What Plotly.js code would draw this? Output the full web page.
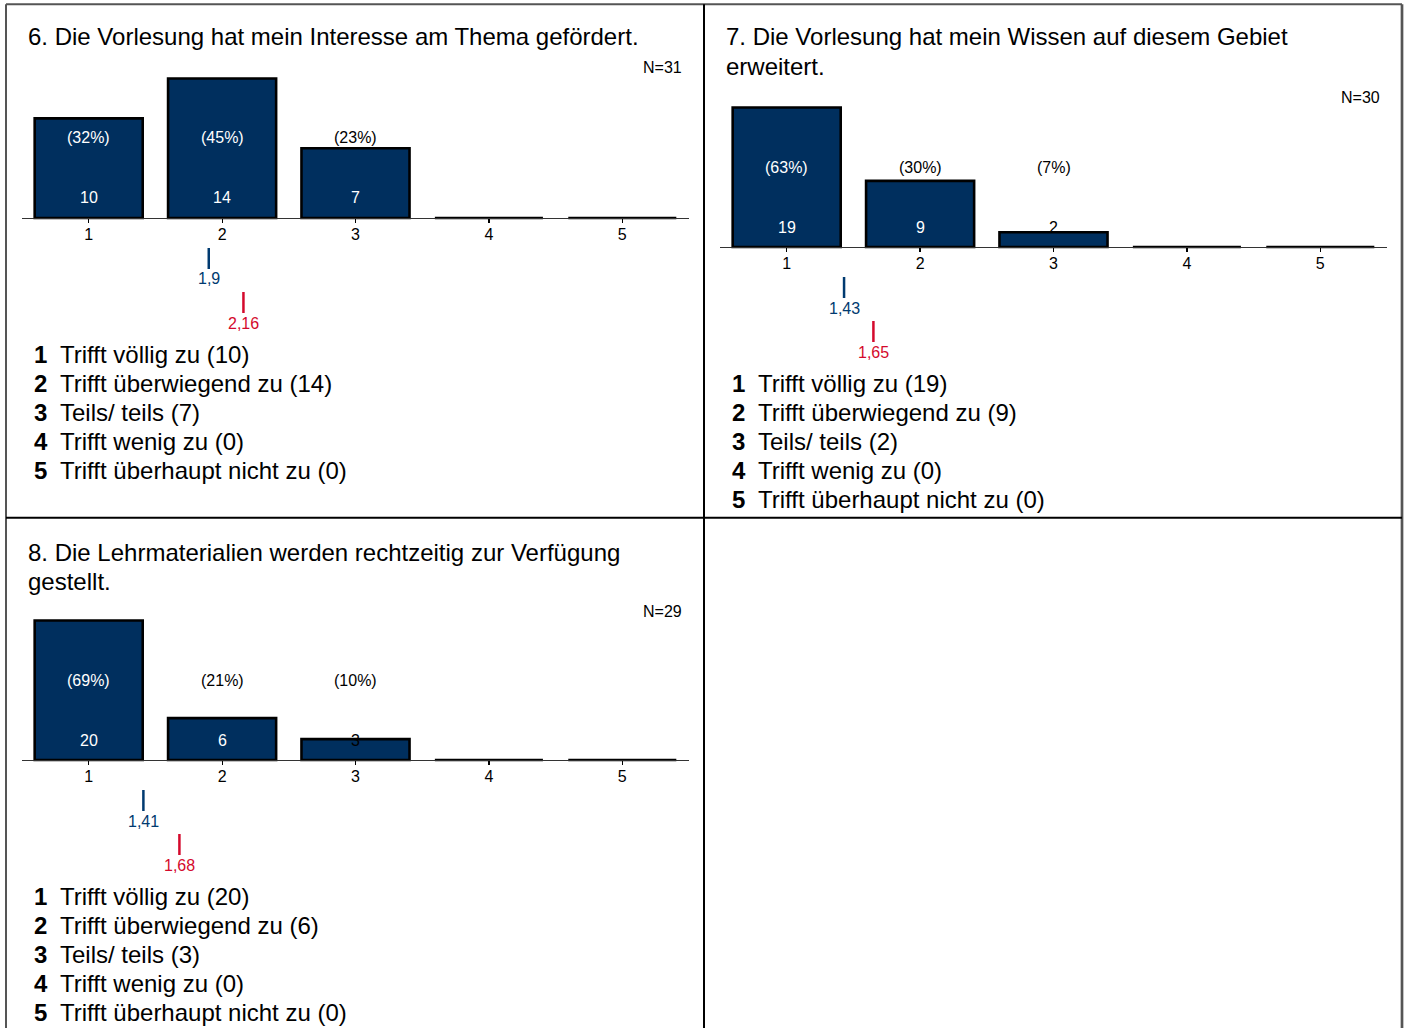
<!DOCTYPE html>
<html>
<head>
<meta charset="utf-8">
<script src="https://cdn.plot.ly/plotly-3.0.1.min.js"></script>
<style>
  html, body { margin: 0; padding: 0; background: #fff; }
  #chart { width: 1406px; height: 1028px; }
</style>
</head>
<body>
<div id="chart"></div>
<script>
// ---------------- data ----------------
const scaleValues = [1, 2, 3, 4, 5];
const scaleLabels = ['Trifft völlig zu', 'Trifft überwiegend zu', 'Teils/ teils', 'Trifft wenig zu', 'Trifft überhaupt nicht zu'];

const title6 = ['6. Die Vorlesung hat mein Interesse am Thema gefördert.'];
const title7 = ['7. Die Vorlesung hat mein Wissen auf diesem Gebiet', 'erweitert.'];
const title8 = ['8. Die Lehrmaterialien werden rechtzeitig zur Verfügung', 'gestellt.'];

const counts6 = [10, 14, 7, 0, 0];
const counts7 = [19, 9, 2, 0, 0];
const counts8 = [20, 6, 3, 0, 0];

const mean6 = 1.9,  compare6 = 2.16;
const mean7 = 1.43, compare7 = 1.65;
const mean8 = 1.41, compare8 = 1.68;

// ---------------- layout helpers ----------------
const W = 1406, H = 1028;
const px = x => x / W;
const py = y => 1 - y / H;
const FONT = 'Liberation Sans, Arial, sans-serif';
const BAR = '#002f5e';
const BLUE = '#003a70';
const RED = '#d4092c';

const panels = [
  { title: title6, counts: counts6, mean: mean6, cmp: compare6, ox: 0,   base: 218, titleY: 37,  nX: 682,  nY: 68 },
  { title: title7, counts: counts7, mean: mean7, cmp: compare7, ox: 698, base: 247, titleY: 37,  nX: 1380, nY: 97 },
  { title: title8, counts: counts8, mean: mean8, cmp: compare8, ox: 0,   base: 760, titleY: 552, nX: 682,  nY: 611 }
];

const fmt = v => String(v).replace('.', ',');

const traces = [];
const annotations = [];
const shapes = [];
const layout = {
  width: W, height: H,
  margin: { l: 0, r: 0, t: 0, b: 0 },
  paper_bgcolor: '#fff', plot_bgcolor: 'rgba(0,0,0,0)',
  showlegend: false,
  font: { family: FONT, color: '#000' }
};

panels.forEach((p, i) => {
  const k = i + 1;
  const sfx = k === 1 ? '' : String(k);
  const xa = 'xaxis' + sfx, ya = 'yaxis' + sfx;
  const xr = 'x' + sfx, yr = 'y' + sfx;
  const N = p.counts.reduce((a, b) => a + b, 0);
  const maxC = Math.max(...p.counts);
  const upx = 139.5 / maxC;   // pixels per count

  traces.push({
    type: 'bar', x: scaleValues, y: p.counts, xaxis: xr, yaxis: yr,
    width: 0.81,
    marker: { color: BAR, line: { color: '#000', width: 2.6 } },
    hoverinfo: 'none'
  });

  layout[xa] = {
    domain: [px(22 + p.ox), px(689 + p.ox)],
    range: [0.5, 5.5],
    anchor: 'free', position: py(p.base),
    tickmode: 'array', tickvals: scaleValues, ticktext: scaleValues.map(String),
    ticks: 'outside', ticklen: 4, tickwidth: 1.2, tickcolor: '#000',
    ticklabelstandoff: -3,
    showline: true, linecolor: '#333', linewidth: 1.3,
    showgrid: false, zeroline: false, fixedrange: true,
    tickfont: { family: FONT, size: 16, color: '#000' }
  };
  // overlay axis: upper half of the crossing tick marks
  const ox = 'xaxis' + (k + 3);
  layout[ox] = {
    overlaying: xr, anchor: 'free', position: py(p.base),
    range: [0.5, 5.5],
    tickmode: 'array', tickvals: scaleValues,
    ticks: 'inside', ticklen: 4, tickwidth: 1.2, tickcolor: '#000',
    showticklabels: false, showline: false, showgrid: false, zeroline: false, fixedrange: true
  };
  layout[ya] = {
    domain: [py(p.base + 6), py(p.base - 145.5)],
    range: [-6 / upx, maxC + 6 / upx],
    visible: false, fixedrange: true, anchor: xr
  };

  // labels on bars
  p.counts.forEach((c, j) => {
    if (c <= 0) return;
    const pct = Math.round(c / N * 100);
    annotations.push({
      xref: xr, yref: yr, x: scaleValues[j], y: 0, yshift: 80,
      text: '(' + pct + '%)', showarrow: false,
      font: { family: FONT, size: 16, color: c * upx > 92 ? '#fff' : '#000' }
    });
    annotations.push({
      xref: xr, yref: yr, x: scaleValues[j], y: 0, yshift: 20,
      text: String(c), showarrow: false,
      font: { family: FONT, size: 16, color: c * upx > 28 ? '#fff' : '#000' }
    });
  });

  // mean / comparison markers
  [[p.mean, BLUE, 30, 51, 61], [p.cmp, RED, 74, 95, 105]].forEach(([v, col, a, b, t]) => {
    shapes.push({
      type: 'line', xref: xr, yref: 'paper',
      x0: v, x1: v, y0: py(p.base + a), y1: py(p.base + b),
      line: { color: col, width: 2.5 }
    });
    annotations.push({
      xref: xr, yref: 'paper', x: v, y: py(p.base + t), yanchor: 'middle',
      text: fmt(v), showarrow: false,
      font: { family: FONT, size: 16, color: col }
    });
  });

  // title lines
  p.title.forEach((line, j) => {
    annotations.push({
      xref: 'paper', yref: 'paper', x: px(26 + p.ox), y: py(p.titleY + 29 * j),
      xanchor: 'left', yanchor: 'middle', text: line, showarrow: false,
      font: { family: FONT, size: 24, color: '#000' }
    });
  });

  // N label
  annotations.push({
    xref: 'paper', yref: 'paper', x: px(p.nX + 2), y: py(p.nY),
    xanchor: 'right', yanchor: 'middle', text: 'N=' + N, showarrow: false,
    font: { family: FONT, size: 16, color: '#000' }
  });

  // legend list
  scaleLabels.forEach((lab, j) => {
    const yy = py(p.base + 136.5 + 28.9 * j);
    annotations.push({
      xref: 'paper', yref: 'paper', x: px(32 + p.ox), y: yy,
      xanchor: 'left', yanchor: 'middle', text: '<b>' + scaleValues[j] + '</b>', showarrow: false,
      font: { family: FONT, size: 24, color: '#000' }
    });
    annotations.push({
      xref: 'paper', yref: 'paper', x: px(58 + p.ox), y: yy,
      xanchor: 'left', yanchor: 'middle', text: lab + ' (' + p.counts[j] + ')', showarrow: false,
      font: { family: FONT, size: 24, color: '#000' }
    });
  });
});

// panel frame lines
const frame = [
  [6, 4.3, 1402, 4.3, '#555', 2],
  [6, 4.3, 6, 1030, '#555', 2],
  [1402, 4.3, 1402, 1030, '#555', 2.7],
  [704, 4.3, 704, 1030, '#000', 2],
  [6, 517.7, 1402, 517.7, '#000', 2]
];
frame.forEach(([x0, y0, x1, y1, c, w]) => shapes.push({
  type: 'line', xref: 'paper', yref: 'paper',
  x0: px(x0), y0: py(y0), x1: px(x1), y1: py(y1), line: { color: c, width: w }
}));

layout.annotations = annotations;
layout.shapes = shapes;

Plotly.newPlot('chart', traces, layout, { staticPlot: true, displayModeBar: false });
</script>
</body>
</html>
